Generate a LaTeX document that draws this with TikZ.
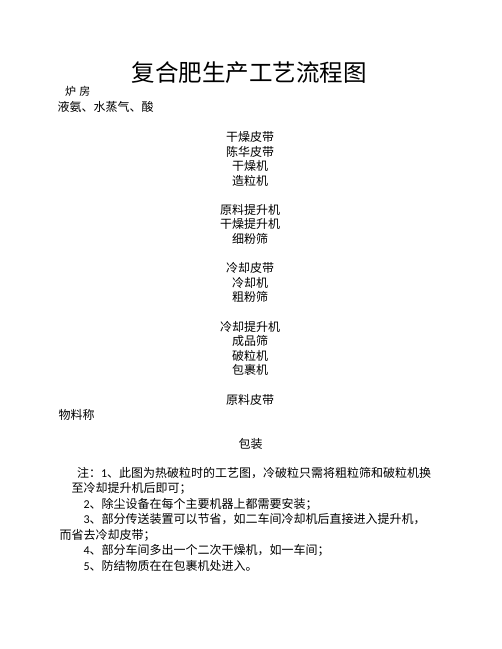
\documentclass[tikz,border=0pt]{standalone}
\usepackage{fontspec}
\newfontfamily\cjk{Noto Sans CJK SC}
\newfontfamily\lat{Carlito}
\begin{document}
\begin{tikzpicture}[x=1bp,y=-1bp,
  every node/.style={inner sep=0pt,outer sep=0pt,text=black,font=\cjk\fontsize{12bp}{14bp}\selectfont},
  col/.style={anchor=base},
  lft/.style={anchor=base west},
  titlefont/.style={font=\cjk\fontsize{23.5bp}{26bp}\selectfont},
  smallfont/.style={font=\cjk\fontsize{11bp}{13bp}\selectfont}]
\useasboundingbox (0,0) rectangle (502,649);
\node[col,titlefont] (title) at (249,81.9) {复合肥生产工艺流程图};
\node[lft,smallfont] (boiler) at (65,95.2) {炉\hspace{3.5bp}房};
\node[lft] (feed) at (57.5,111.6) {液氨、水蒸气、酸};
\node[col] (c1) at (250,141.6) {干燥皮带};
\node[col] (c2) at (250,156.1) {陈华皮带};
\node[col] (c3) at (250,170.6) {干燥机};
\node[col] (c4) at (250,185.1) {造粒机};
\node[col] (c5) at (250,214.2) {原料提升机};
\node[col] (c6) at (250,228.8) {干燥提升机};
\node[col] (c7) at (250,243.4) {细粉筛};
\node[col] (c8) at (250,272.6) {冷却皮带};
\node[col] (c9) at (250,287.2) {冷却机};
\node[col] (c10) at (250,301.8) {粗粉筛};
\node[col] (c11) at (250,331.0) {冷却提升机};
\node[col] (c12) at (250,345.6) {成品筛};
\node[col] (c13) at (250,360.2) {破粒机};
\node[col] (c14) at (250,374.8) {包裹机};
\node[col] (c15) at (250,404.6) {原料皮带};
\node[lft] (scale) at (58.5,419.0) {物料称};
\node[col] (pack) at (250.5,448.5) {包装};
\node[lft] (note1) at (77,477.0) {注：{\lat 1}、此图为热破粒时的工艺图，冷破粒只需将粗粒筛和破粒机换};
\node[lft] (note1b) at (71.5,492.5) {至冷却提升机后即可；};
\node[lft] (note2) at (83.5,508.0) {{\lat 2}、除尘设备在每个主要机器上都需要安装；};
\node[lft] (note3) at (83.5,523.5) {{\lat 3}、部分传送装置可以节省，如二车间冷却机后直接进入提升机，};
\node[lft] (note3b) at (59.5,539.0) {而省去冷却皮带；};
\node[lft] (note4) at (83.5,554.5) {{\lat 4}、部分车间多出一个二次干燥机，如一车间；};
\node[lft] (note5) at (83.5,570.0) {{\lat 5}、防结物质在在包裹机处进入。};
\end{tikzpicture}
\end{document}
